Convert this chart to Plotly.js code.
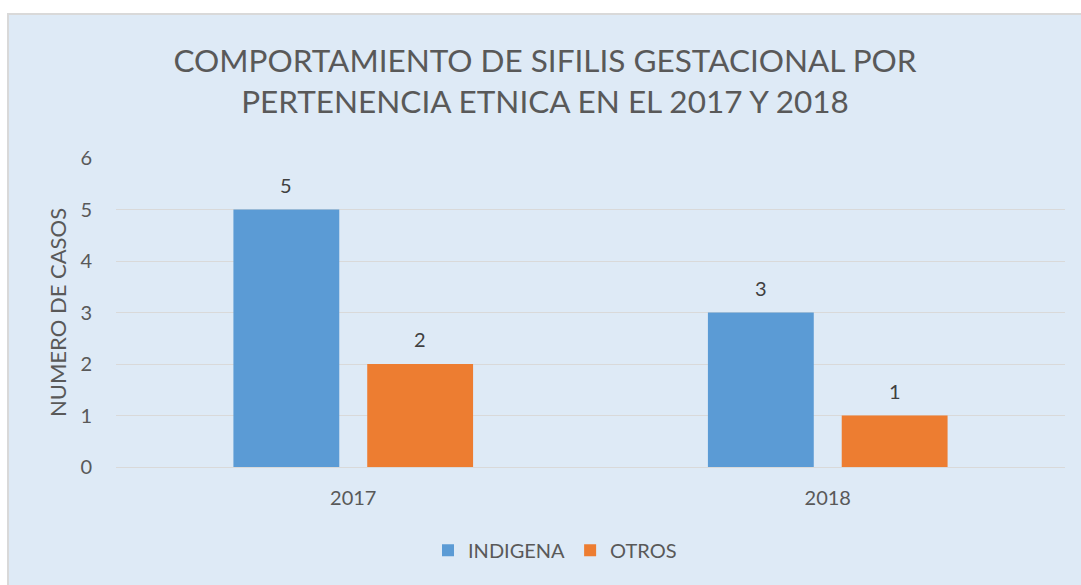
<!DOCTYPE html>
<html>
<head>
<meta charset="utf-8">
<script src="https://cdn.plot.ly/plotly-3.0.1.min.js"></script>
<style>
  html, body { margin:0; padding:0; background:#ffffff; overflow:hidden; }
  #wrap { position:absolute; left:7px; top:13px; border-left:2px solid #d9d9d9; border-top:2px solid #d9d9d9; }
  #chart { width:1072px; height:570px; }
</style>
</head>
<body>
<div id="wrap"><div id="chart"></div></div>
<script>
const years = ['2017', '2018'];
const indigena = [5, 3];
const otros = [2, 1];
const seriesNames = ['INDIGENA', 'OTROS'];
const yTicks = [0, 1, 2, 3, 4, 5, 6];

const font = "Lato, 'Open Sans', sans-serif";
const textColor = '#595959';

const traces = [
  { type:'bar', name:seriesNames[0], x:years, y:indigena, marker:{color:'#5B9BD5'}, hoverinfo:'x+y' },
  { type:'bar', name:seriesNames[1], x:years, y:otros, marker:{color:'#ED7D31'}, hoverinfo:'x+y' }
];

const annotations = [];
[indigena, otros].forEach((vals, si) => {
  vals.forEach((v, i) => {
    annotations.push({
      x: i, y: v, xref:'x', yref:'y', text: String(v), showarrow:false,
      xshift: si === 0 ? -67 : 67, yshift: 25, yanchor:'middle',
      font:{family:font, size:20, color:'#404040'}
    });
  });
});

const layout = {
  width:1072, height:570,
  paper_bgcolor:'#DEEAF6', plot_bgcolor:'#DEEAF6',
  margin:{l:107, r:16, t:143, b:118},
  title:{
    text:'COMPORTAMIENTO DE SIFILIS GESTACIONAL POR<br>PERTENENCIA ETNICA EN EL 2017 Y 2018',
    font:{family:font, size:31.5, color:textColor},
    x:0.5, xanchor:'center', yref:'container', y:0.90, yanchor:'middle'
  },
  barmode:'group', bargap:0.436, bargroupgap:0.209,
  xaxis:{
    type:'category', showgrid:false, zeroline:false, showline:false,
    ticks:'outside', ticklen:13, tickcolor:'rgba(0,0,0,0)',
    tickfont:{family:font, size:20, color:textColor}
  },
  yaxis:{
    range:[0,6], tickvals:yTicks, showgrid:true, gridcolor:'#D9D9D9', gridwidth:1,
    zeroline:true, zerolinecolor:'#D9D9D9', zerolinewidth:1, showline:false,
    ticks:'outside', ticklen:19, tickcolor:'rgba(0,0,0,0)',
    tickfont:{family:font, size:20, color:textColor},
    title:{text:'NUMERO DE CASOS', font:{family:font, size:22, color:textColor}, standoff:7}
  },
  legend:{
    orientation:'h', x:0.4626, xanchor:'center', yref:'container', y:0.061, yanchor:'middle',
    font:{family:font, size:20, color:textColor}, bgcolor:'rgba(0,0,0,0)', itemwidth:30
  },
  annotations: annotations,
  showlegend:true
};

Plotly.newPlot('chart', traces, layout, {displayModeBar:false, staticPlot:true});
</script>
</body>
</html>
